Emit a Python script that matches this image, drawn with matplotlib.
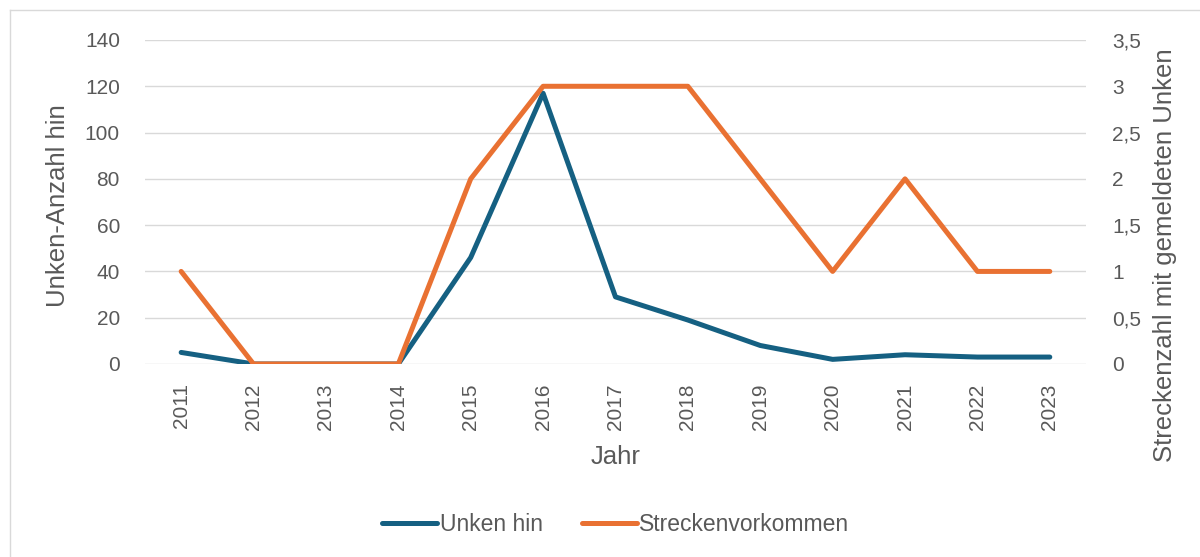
import matplotlib.pyplot as plt
from matplotlib.lines import Line2D
from matplotlib.ticker import FuncFormatter

years = ['2011', '2012', '2013', '2014', '2015', '2016', '2017',
         '2018', '2019', '2020', '2021', '2022', '2023']
unken_hin = [5, 0, 0, 0, 46, 117, 29, 19, 8, 2, 4, 3, 3]
strecken = [1, 0, 0, 0, 2, 3, 3, 3, 2, 1, 2, 1, 1]

blue = '#156082'
orange = '#E97132'
grey = '#595959'
plt.rcParams['font.family'] = ['Liberation Sans', 'DejaVu Sans']

fig = plt.figure(figsize=(12, 5.57), dpi=100)
ax = fig.add_axes([0.1208, 0.3465, 0.7842, 0.5817])
ax2 = ax.twinx()

x = range(len(years))
l1, = ax.plot(x, unken_hin, color=blue, lw=3.6, solid_capstyle='round',
              solid_joinstyle='round', label='Unken hin')
l2, = ax2.plot(x, strecken, color=orange, lw=3.6, solid_capstyle='round',
               solid_joinstyle='round', label='Streckenvorkommen')

ax.set_xlim(-0.5, len(years) - 0.5)
ax.set_ylim(0, 140)
ax.set_yticks(range(0, 141, 20))
ax2.set_ylim(0, 3.5)
ax2.set_yticks([0, 0.5, 1, 1.5, 2, 2.5, 3, 3.5])
ax2.yaxis.set_major_formatter(FuncFormatter(lambda v, p: ('%g' % v).replace('.', ',')))
ax.set_xticks(list(x))
ax.set_xticklabels(years, rotation=90)

ax.grid(axis='y', color='#d9d9d9', lw=1)
ax.set_axisbelow(True)
for a in (ax, ax2):
    for s in a.spines.values():
        s.set_visible(False)
    a.tick_params(length=0, labelsize=15, colors=grey)
ax.tick_params(axis='y', pad=18)
ax.tick_params(axis='x', pad=14)
ax2.tick_params(axis='y', pad=19)

ax.set_xlabel('Jahr', fontsize=18.5, color=grey)
ax.set_ylabel('Unken-Anzahl hin', fontsize=18.5, color=grey)
ax2.set_ylabel('Streckenzahl mit gemeldeten Unken', fontsize=18.5, color=grey)
ax.xaxis.set_label_coords(0.5, -0.287)
ax.yaxis.set_label_coords(-0.0925, 0.488)
ax2.yaxis.set_label_coords(1.084, 0.336)
ax.xaxis.label.set_va('center')
ax.yaxis.label.set_va('center')
ax2.yaxis.label.set_va('center')

fig.legend(handles=[l1, l2], loc='center', bbox_to_anchor=(0.513, 0.0575), ncol=2,
           frameon=False, fontsize=16.5, labelcolor=grey, handlelength=2.4,
           handletextpad=0.1, columnspacing=1.7)

fig.add_artist(Line2D([0.008, 0.008], [0, 0.982], color='#d9d9d9', lw=1))
fig.add_artist(Line2D([0.008, 1], [0.982, 0.982], color='#d9d9d9', lw=1))

fig.savefig('out.png', dpi=100)
